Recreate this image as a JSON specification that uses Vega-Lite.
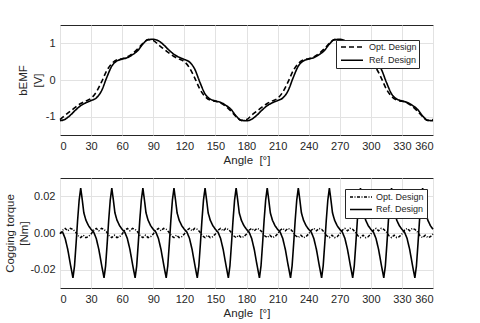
{
"$schema": "https://vega.github.io/schema/vega-lite/v6.json",
"background": "white",
"padding": {"left": 4, "top": 24, "right": 5, "bottom": 2},
"spacing": 43,
"bounds": "flush",
"config": {
  "font": "Liberation Sans",
  "view": {"stroke": "#262626", "strokeWidth": 1},
  "axis": {"labelFont": "Liberation Sans", "titleFont": "Liberation Sans", "labelFontSize": 11, "titleFontSize": 11.5, "titleFontWeight": "normal", "labelColor": "#262626", "titleColor": "#262626", "gridColor": "#e2e2e2", "gridWidth": 1, "domain": false, "ticks": false},
  "legend": {"orient": "none", "symbolType": "M-0.5,0H5", "symbolSize": 64, "symbolStrokeColor": "black", "symbolStrokeWidth": 1.5, "labelFont": "Liberation Sans", "labelColor": "#262626", "labelFontSize": 9, "strokeColor": "#262626", "fillColor": "white"}
},
"resolve": {"scale": {"strokeDash": "independent"}, "legend": {"strokeDash": "independent"}},
"datasets": {
  "topRef": [
    {"a":0,"v":-1.11},{"a":5,"v":-1.07},{"a":10,"v":-0.96},{"a":15,"v":-0.82},{"a":20,"v":-0.70},{"a":25,"v":-0.62},{"a":30,"v":-0.56},{"a":35,"v":-0.49},{"a":40,"v":-0.30},{"a":45,"v":0.06},{"a":50,"v":0.38},{"a":55,"v":0.52},{"a":60,"v":0.57},{"a":65,"v":0.61},{"a":70,"v":0.69},{"a":75,"v":0.80},{"a":80,"v":0.98},{"a":85,"v":1.10},
    {"a":90,"v":1.11},{"a":95,"v":1.07},{"a":100,"v":0.96},{"a":105,"v":0.82},{"a":110,"v":0.70},{"a":115,"v":0.62},{"a":120,"v":0.56},{"a":125,"v":0.49},{"a":130,"v":0.30},{"a":135,"v":-0.06},{"a":140,"v":-0.38},{"a":145,"v":-0.52},{"a":150,"v":-0.57},{"a":155,"v":-0.61},{"a":160,"v":-0.69},{"a":165,"v":-0.80},{"a":170,"v":-0.98},{"a":175,"v":-1.10},
    {"a":180,"v":-1.11},{"a":185,"v":-1.07},{"a":190,"v":-0.96},{"a":195,"v":-0.82},{"a":200,"v":-0.70},{"a":205,"v":-0.62},{"a":210,"v":-0.56},{"a":215,"v":-0.49},{"a":220,"v":-0.30},{"a":225,"v":0.06},{"a":230,"v":0.38},{"a":235,"v":0.52},{"a":240,"v":0.57},{"a":245,"v":0.61},{"a":250,"v":0.69},{"a":255,"v":0.80},{"a":260,"v":0.98},{"a":265,"v":1.10},
    {"a":270,"v":1.11},{"a":275,"v":1.07},{"a":280,"v":0.96},{"a":285,"v":0.82},{"a":290,"v":0.70},{"a":295,"v":0.62},{"a":300,"v":0.56},{"a":305,"v":0.49},{"a":310,"v":0.30},{"a":315,"v":-0.06},{"a":320,"v":-0.38},{"a":325,"v":-0.52},{"a":330,"v":-0.57},{"a":335,"v":-0.61},{"a":340,"v":-0.69},{"a":345,"v":-0.80},{"a":350,"v":-0.98},{"a":355,"v":-1.10},{"a":360,"v":-1.11}
  ],
  "topOpt": [
    {"a":0,"v":-1.08},{"a":5,"v":-0.96},{"a":10,"v":-0.85},{"a":15,"v":-0.74},{"a":20,"v":-0.64},{"a":25,"v":-0.57},{"a":30,"v":-0.50},{"a":35,"v":-0.33},{"a":40,"v":-0.06},{"a":45,"v":0.25},{"a":50,"v":0.45},{"a":55,"v":0.55},{"a":60,"v":0.58},{"a":65,"v":0.63},{"a":70,"v":0.72},{"a":75,"v":0.85},{"a":80,"v":1.00},{"a":85,"v":1.10},
    {"a":90,"v":1.08},{"a":95,"v":0.96},{"a":100,"v":0.85},{"a":105,"v":0.74},{"a":110,"v":0.64},{"a":115,"v":0.57},{"a":120,"v":0.50},{"a":125,"v":0.33},{"a":130,"v":0.06},{"a":135,"v":-0.25},{"a":140,"v":-0.45},{"a":145,"v":-0.55},{"a":150,"v":-0.58},{"a":155,"v":-0.63},{"a":160,"v":-0.72},{"a":165,"v":-0.85},{"a":170,"v":-1.00},{"a":175,"v":-1.10},
    {"a":180,"v":-1.08},{"a":185,"v":-0.96},{"a":190,"v":-0.85},{"a":195,"v":-0.74},{"a":200,"v":-0.64},{"a":205,"v":-0.57},{"a":210,"v":-0.50},{"a":215,"v":-0.33},{"a":220,"v":-0.06},{"a":225,"v":0.25},{"a":230,"v":0.45},{"a":235,"v":0.55},{"a":240,"v":0.58},{"a":245,"v":0.63},{"a":250,"v":0.72},{"a":255,"v":0.85},{"a":260,"v":1.00},{"a":265,"v":1.10},
    {"a":270,"v":1.08},{"a":275,"v":0.96},{"a":280,"v":0.85},{"a":285,"v":0.74},{"a":290,"v":0.64},{"a":295,"v":0.57},{"a":300,"v":0.50},{"a":305,"v":0.33},{"a":310,"v":0.06},{"a":315,"v":-0.25},{"a":320,"v":-0.45},{"a":325,"v":-0.55},{"a":330,"v":-0.58},{"a":335,"v":-0.63},{"a":340,"v":-0.72},{"a":345,"v":-0.85},{"a":350,"v":-1.00},{"a":355,"v":-1.10},{"a":360,"v":-1.08}
  ],
  "botRef": [
    {"a":0,"v":0.0},{"a":2.5,"v":0.0005},{"a":5,"v":-0.003},{"a":7.5,"v":-0.009},{"a":10,"v":-0.017},{"a":12.5,"v":-0.0245},{"a":14,"v":-0.018},{"a":15.5,"v":-0.006},{"a":17,"v":0.007},{"a":18.5,"v":0.018},{"a":20,"v":0.0245},{"a":21.5,"v":0.018},{"a":23,"v":0.011},{"a":25,"v":0.007},{"a":27.5,"v":0.004},
    {"a":30,"v":0.002},{"a":32.5,"v":0.0005},{"a":35,"v":-0.003},{"a":37.5,"v":-0.009},{"a":40,"v":-0.017},{"a":42.5,"v":-0.0245},{"a":44,"v":-0.018},{"a":45.5,"v":-0.006},{"a":47,"v":0.007},{"a":48.5,"v":0.018},{"a":50,"v":0.0245},{"a":51.5,"v":0.018},{"a":53,"v":0.011},{"a":55,"v":0.007},{"a":57.5,"v":0.004},
    {"a":60,"v":0.002},{"a":62.5,"v":0.0005},{"a":65,"v":-0.003},{"a":67.5,"v":-0.009},{"a":70,"v":-0.017},{"a":72.5,"v":-0.0245},{"a":74,"v":-0.018},{"a":75.5,"v":-0.006},{"a":77,"v":0.007},{"a":78.5,"v":0.018},{"a":80,"v":0.0245},{"a":81.5,"v":0.018},{"a":83,"v":0.011},{"a":85,"v":0.007},{"a":87.5,"v":0.004},
    {"a":90,"v":0.002},{"a":92.5,"v":0.0005},{"a":95,"v":-0.003},{"a":97.5,"v":-0.009},{"a":100,"v":-0.017},{"a":102.5,"v":-0.0245},{"a":104,"v":-0.018},{"a":105.5,"v":-0.006},{"a":107,"v":0.007},{"a":108.5,"v":0.018},{"a":110,"v":0.0245},{"a":111.5,"v":0.018},{"a":113,"v":0.011},{"a":115,"v":0.007},{"a":117.5,"v":0.004},
    {"a":120,"v":0.002},{"a":122.5,"v":0.0005},{"a":125,"v":-0.003},{"a":127.5,"v":-0.009},{"a":130,"v":-0.017},{"a":132.5,"v":-0.0245},{"a":134,"v":-0.018},{"a":135.5,"v":-0.006},{"a":137,"v":0.007},{"a":138.5,"v":0.018},{"a":140,"v":0.0245},{"a":141.5,"v":0.018},{"a":143,"v":0.011},{"a":145,"v":0.007},{"a":147.5,"v":0.004},
    {"a":150,"v":0.002},{"a":152.5,"v":0.0005},{"a":155,"v":-0.003},{"a":157.5,"v":-0.009},{"a":160,"v":-0.017},{"a":162.5,"v":-0.0245},{"a":164,"v":-0.018},{"a":165.5,"v":-0.006},{"a":167,"v":0.007},{"a":168.5,"v":0.018},{"a":170,"v":0.0245},{"a":171.5,"v":0.018},{"a":173,"v":0.011},{"a":175,"v":0.007},{"a":177.5,"v":0.004},
    {"a":180,"v":0.002},{"a":182.5,"v":0.0005},{"a":185,"v":-0.003},{"a":187.5,"v":-0.009},{"a":190,"v":-0.017},{"a":192.5,"v":-0.0245},{"a":194,"v":-0.018},{"a":195.5,"v":-0.006},{"a":197,"v":0.007},{"a":198.5,"v":0.018},{"a":200,"v":0.0245},{"a":201.5,"v":0.018},{"a":203,"v":0.011},{"a":205,"v":0.007},{"a":207.5,"v":0.004},
    {"a":210,"v":0.002},{"a":212.5,"v":0.0005},{"a":215,"v":-0.003},{"a":217.5,"v":-0.009},{"a":220,"v":-0.017},{"a":222.5,"v":-0.0245},{"a":224,"v":-0.018},{"a":225.5,"v":-0.006},{"a":227,"v":0.007},{"a":228.5,"v":0.018},{"a":230,"v":0.0245},{"a":231.5,"v":0.018},{"a":233,"v":0.011},{"a":235,"v":0.007},{"a":237.5,"v":0.004},
    {"a":240,"v":0.002},{"a":242.5,"v":0.0005},{"a":245,"v":-0.003},{"a":247.5,"v":-0.009},{"a":250,"v":-0.017},{"a":252.5,"v":-0.0245},{"a":254,"v":-0.018},{"a":255.5,"v":-0.006},{"a":257,"v":0.007},{"a":258.5,"v":0.018},{"a":260,"v":0.0245},{"a":261.5,"v":0.018},{"a":263,"v":0.011},{"a":265,"v":0.007},{"a":267.5,"v":0.004},
    {"a":270,"v":0.002},{"a":272.5,"v":0.0005},{"a":275,"v":-0.003},{"a":277.5,"v":-0.009},{"a":280,"v":-0.017},{"a":282.5,"v":-0.0245},{"a":284,"v":-0.018},{"a":285.5,"v":-0.006},{"a":287,"v":0.007},{"a":288.5,"v":0.018},{"a":290,"v":0.0245},{"a":291.5,"v":0.018},{"a":293,"v":0.011},{"a":295,"v":0.007},{"a":297.5,"v":0.004},
    {"a":300,"v":0.002},{"a":302.5,"v":0.0005},{"a":305,"v":-0.003},{"a":307.5,"v":-0.009},{"a":310,"v":-0.017},{"a":312.5,"v":-0.0245},{"a":314,"v":-0.018},{"a":315.5,"v":-0.006},{"a":317,"v":0.007},{"a":318.5,"v":0.018},{"a":320,"v":0.0245},{"a":321.5,"v":0.018},{"a":323,"v":0.011},{"a":325,"v":0.007},{"a":327.5,"v":0.004},
    {"a":330,"v":0.002},{"a":332.5,"v":0.0005},{"a":335,"v":-0.003},{"a":337.5,"v":-0.009},{"a":340,"v":-0.017},{"a":342.5,"v":-0.0245},{"a":344,"v":-0.018},{"a":345.5,"v":-0.006},{"a":347,"v":0.007},{"a":348.5,"v":0.018},{"a":350,"v":0.0245},{"a":351.5,"v":0.018},{"a":353,"v":0.011},{"a":355,"v":0.007},{"a":357.5,"v":0.004},{"a":360,"v":0.002}
  ],
  "botOpt": [
    {"a":0,"v":-0.0005},{"a":2.5,"v":0.0015},{"a":5,"v":0.0025},{"a":7.5,"v":0.0012},{"a":10,"v":0.0025},{"a":12.5,"v":0.002},{"a":15,"v":0.0005},{"a":17.5,"v":-0.0015},{"a":20,"v":-0.0025},{"a":22.5,"v":-0.0012},{"a":25,"v":-0.0025},{"a":27.5,"v":-0.002},
    {"a":30,"v":-0.0005},{"a":32.5,"v":0.0015},{"a":35,"v":0.0025},{"a":37.5,"v":0.0012},{"a":40,"v":0.0025},{"a":42.5,"v":0.002},{"a":45,"v":0.0005},{"a":47.5,"v":-0.0015},{"a":50,"v":-0.0025},{"a":52.5,"v":-0.0012},{"a":55,"v":-0.0025},{"a":57.5,"v":-0.002},
    {"a":60,"v":-0.0005},{"a":62.5,"v":0.0015},{"a":65,"v":0.0025},{"a":67.5,"v":0.0012},{"a":70,"v":0.0025},{"a":72.5,"v":0.002},{"a":75,"v":0.0005},{"a":77.5,"v":-0.0015},{"a":80,"v":-0.0025},{"a":82.5,"v":-0.0012},{"a":85,"v":-0.0025},{"a":87.5,"v":-0.002},
    {"a":90,"v":-0.0005},{"a":92.5,"v":0.0015},{"a":95,"v":0.0025},{"a":97.5,"v":0.0012},{"a":100,"v":0.0025},{"a":102.5,"v":0.002},{"a":105,"v":0.0005},{"a":107.5,"v":-0.0015},{"a":110,"v":-0.0025},{"a":112.5,"v":-0.0012},{"a":115,"v":-0.0025},{"a":117.5,"v":-0.002},
    {"a":120,"v":-0.0005},{"a":122.5,"v":0.0015},{"a":125,"v":0.0025},{"a":127.5,"v":0.0012},{"a":130,"v":0.0025},{"a":132.5,"v":0.002},{"a":135,"v":0.0005},{"a":137.5,"v":-0.0015},{"a":140,"v":-0.0025},{"a":142.5,"v":-0.0012},{"a":145,"v":-0.0025},{"a":147.5,"v":-0.002},
    {"a":150,"v":-0.0005},{"a":152.5,"v":0.0015},{"a":155,"v":0.0025},{"a":157.5,"v":0.0012},{"a":160,"v":0.0025},{"a":162.5,"v":0.002},{"a":165,"v":0.0005},{"a":167.5,"v":-0.0015},{"a":170,"v":-0.0025},{"a":172.5,"v":-0.0012},{"a":175,"v":-0.0025},{"a":177.5,"v":-0.002},
    {"a":180,"v":-0.0005},{"a":182.5,"v":0.0015},{"a":185,"v":0.0025},{"a":187.5,"v":0.0012},{"a":190,"v":0.0025},{"a":192.5,"v":0.002},{"a":195,"v":0.0005},{"a":197.5,"v":-0.0015},{"a":200,"v":-0.0025},{"a":202.5,"v":-0.0012},{"a":205,"v":-0.0025},{"a":207.5,"v":-0.002},
    {"a":210,"v":-0.0005},{"a":212.5,"v":0.0015},{"a":215,"v":0.0025},{"a":217.5,"v":0.0012},{"a":220,"v":0.0025},{"a":222.5,"v":0.002},{"a":225,"v":0.0005},{"a":227.5,"v":-0.0015},{"a":230,"v":-0.0025},{"a":232.5,"v":-0.0012},{"a":235,"v":-0.0025},{"a":237.5,"v":-0.002},
    {"a":240,"v":-0.0005},{"a":242.5,"v":0.0015},{"a":245,"v":0.0025},{"a":247.5,"v":0.0012},{"a":250,"v":0.0025},{"a":252.5,"v":0.002},{"a":255,"v":0.0005},{"a":257.5,"v":-0.0015},{"a":260,"v":-0.0025},{"a":262.5,"v":-0.0012},{"a":265,"v":-0.0025},{"a":267.5,"v":-0.002},
    {"a":270,"v":-0.0005},{"a":272.5,"v":0.0015},{"a":275,"v":0.0025},{"a":277.5,"v":0.0012},{"a":280,"v":0.0025},{"a":282.5,"v":0.002},{"a":285,"v":0.0005},{"a":287.5,"v":-0.0015},{"a":290,"v":-0.0025},{"a":292.5,"v":-0.0012},{"a":295,"v":-0.0025},{"a":297.5,"v":-0.002},
    {"a":300,"v":-0.0005},{"a":302.5,"v":0.0015},{"a":305,"v":0.0025},{"a":307.5,"v":0.0012},{"a":310,"v":0.0025},{"a":312.5,"v":0.002},{"a":315,"v":0.0005},{"a":317.5,"v":-0.0015},{"a":320,"v":-0.0025},{"a":322.5,"v":-0.0012},{"a":325,"v":-0.0025},{"a":327.5,"v":-0.002},
    {"a":330,"v":-0.0005},{"a":332.5,"v":0.0015},{"a":335,"v":0.0025},{"a":337.5,"v":0.0012},{"a":340,"v":0.0025},{"a":342.5,"v":0.002},{"a":345,"v":0.0005},{"a":347.5,"v":-0.0015},{"a":350,"v":-0.0025},{"a":352.5,"v":-0.0012},{"a":355,"v":-0.0025},{"a":357.5,"v":-0.002},{"a":360,"v":-0.0005}
  ]
},
"vconcat": [
  {
    "width": 373, "height": 110,
    "encoding": {
      "x": {"field": "a", "type": "quantitative", "scale": {"domain": [0, 360], "nice": false}, "axis": {"values": [0,30,60,90,120,150,180,210,240,270,300,330,360], "title": "Angle \u00a0[°]", "labelPadding": 5, "titlePadding": 3, "grid": true}},
      "y": {"field": "v", "type": "quantitative", "scale": {"domain": [-1.5, 1.5], "nice": false}, "axis": {"values": [-1, 0, 1], "labelExpr": "replace(datum.label, '−', '-')", "title": ["bEMF", "[V]"], "titleLineHeight": 15, "labelPadding": 5, "titlePadding": 2, "grid": true}}
    },
    "layer": [
      {"data": {"name": "topOpt"}, "mark": {"type": "line", "color": "black", "strokeWidth": 1.6, "interpolate": "monotone"},
       "encoding": {"strokeDash": {"datum": "Opt. Design", "type": "nominal", "scale": {"domain": ["Opt. Design", "Ref. Design"], "range": [[5, 3], [1, 0]]}, "legend": {"title": null, "legendX": 276, "legendY": 15, "padding": 2, "rowPadding": 3.3, "labelOffset": 21}}}},
      {"data": {"name": "topRef"}, "mark": {"type": "line", "color": "black", "strokeWidth": 1.6, "interpolate": "monotone"},
       "encoding": {"strokeDash": {"datum": "Ref. Design", "type": "nominal"}}}
    ]
  },
  {
    "width": 373, "height": 110,
    "encoding": {
      "x": {"field": "a", "type": "quantitative", "scale": {"domain": [0, 360], "nice": false}, "axis": {"values": [0,30,60,90,120,150,180,210,240,270,300,330,360], "title": "Angle \u00a0[°]", "labelPadding": 5, "titlePadding": 3, "grid": true}},
      "y": {"field": "v", "type": "quantitative", "scale": {"domain": [-0.03, 0.03], "nice": false}, "axis": {"values": [-0.02, 0, 0.02], "labelExpr": "replace(datum.label, '−', '-')", "title": ["Cogging torque", "[Nm]"], "titleLineHeight": 14, "labelPadding": 5, "titlePadding": 0, "grid": true}}
    },
    "layer": [
      {"data": {"name": "botOpt"}, "mark": {"type": "line", "color": "black", "strokeWidth": 1.5},
       "encoding": {"strokeDash": {"datum": "Opt. Design", "type": "nominal", "scale": {"domain": ["Opt. Design", "Ref. Design"], "range": [[3, 1.5, 1, 1.5], [1, 0]]}, "legend": {"title": null, "legendX": 285, "legendY": 11, "padding": 3, "rowPadding": 2.4, "labelOffset": 18, "symbolType": "M-0.75,0H4.75"}}}},
      {"data": {"name": "botRef"}, "mark": {"type": "line", "color": "black", "strokeWidth": 1.6},
       "encoding": {"strokeDash": {"datum": "Ref. Design", "type": "nominal"}}}
    ]
  }
]
}
